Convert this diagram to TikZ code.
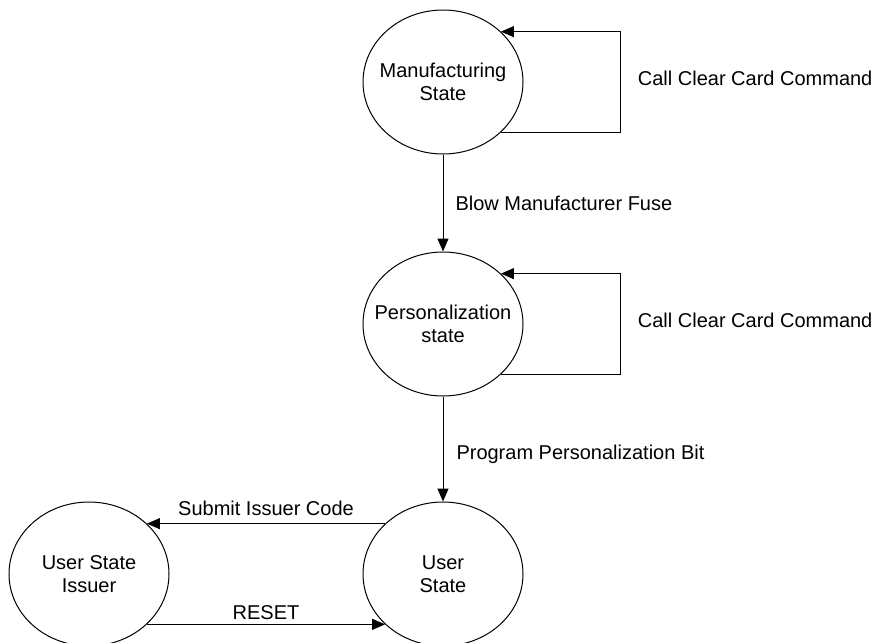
\documentclass[tikz,border=0pt]{standalone}
\usepackage{fontspec}
\setsansfont{Liberation Sans}
\tikzset{every picture/.style={/utils/exec={\sffamily}}}
\usetikzlibrary{calc}
\usetikzlibrary{positioning}
\usetikzlibrary{shapes.geometric,arrows.meta}

\begin{document}
\begin{tikzpicture}[node distance=0pt,
  state/.style={draw, ellipse, line width=0.5pt, minimum width=80pt, minimum height=72pt,
    inner xsep=-8pt, inner ysep=0pt, align=center, font=\fontsize{10}{11.5}\selectfont},
  trans/.style={-{Triangle[length=6.5pt,width=5.5pt]}, line width=0.5pt},
  lbl/.style={inner sep=0pt, font=\fontsize{10}{12}\selectfont}]
  \useasboundingbox (0,0) rectangle (437pt,-321.5pt);

  \node (manuf) [state] at (221.5pt,-41pt) {Manufacturing\\State};
  \node (perso) [state, below=48.5pt of manuf] {Personalization\\state};
  \node (user) [state, below=52.5pt of perso] {User\\State};
  \node (issuer) [state, left=96.5pt of user] {User State\\Issuer};

  \foreach \st in {manuf,perso} {
    \draw [trans] (\st.-41) -| ([xshift=48.5pt]\st.east) |- (\st.41);
    \node (\st-clear) [lbl, right=57pt of \st.east, yshift=2pt] {Call Clear Card Command};
  }

  \draw [trans] (manuf) -- node [lbl, right=6pt] {Blow Manufacturer Fuse} (perso);
  \draw [trans] (perso) -- node [lbl, right=6.5pt, pos=0.55] {Program Personalization Bit} (user);
  \draw [trans] (user.139) -- node [lbl, above=3.5pt] {Submit Issuer Code} (issuer.41);
  \draw [trans] (issuer.-41) -- node [lbl, above=2pt] {RESET} (user.-139);
\end{tikzpicture}
\end{document}
